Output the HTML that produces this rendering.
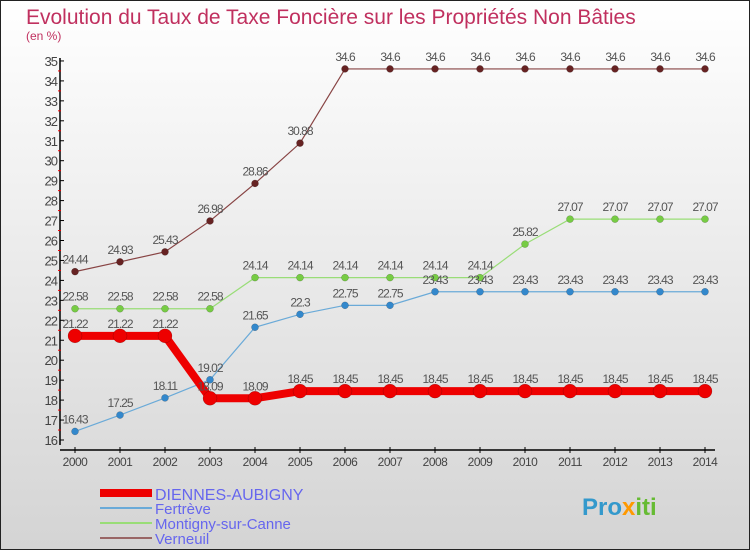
<!DOCTYPE html>
<html><head><meta charset="utf-8"><style>
body{margin:0}
svg{display:block;font-family:"Liberation Sans",sans-serif}
</style></head><body>
<svg id="c" width="750" height="550" viewBox="0 0 750 550">
<defs><linearGradient id="bg" x1="0" y1="0" x2="0" y2="1"><stop offset="0" stop-color="#ffffff"/><stop offset="1" stop-color="#d4d4d4"/></linearGradient></defs>
<rect x="0.5" y="0.5" width="749" height="549" fill="url(#bg)" stroke="#222"/>
<text x="26" y="24" font-size="21" fill="#c0305f">Evolution du Taux de Taxe Foncière sur les Propriétés Non Bâties</text>
<text x="26" y="40" font-size="12" fill="#c0305f">(en %)</text>
<g id="axes"></g><g id="series"></g>
<g>
<line x1="100" y1="493" x2="152" y2="493" stroke="#ee0000" stroke-width="8"/>
<text x="155" y="500" font-size="16" fill="#6666ee">DIENNES-AUBIGNY</text>
<line x1="100" y1="508" x2="152" y2="508" stroke="#6aaad8" stroke-width="2"/>
<text x="155" y="514" font-size="15" fill="#6666ee">Fertrève</text>
<line x1="100" y1="523" x2="152" y2="523" stroke="#99dd77" stroke-width="2"/>
<text x="155" y="529" font-size="15" fill="#6666ee">Montigny-sur-Canne</text>
<line x1="100" y1="538" x2="152" y2="538" stroke="#996666" stroke-width="2"/>
<text x="155" y="544" font-size="15" fill="#6666ee">Verneuil</text>
</g>
<text x="582" y="515" font-size="24" font-weight="bold" fill="#3399cc">Pro<tspan fill="#ff9900">x</tspan><tspan fill="#66bb33">iti</tspan></text>
</svg>
<script>
const years=[2000,2001,2002,2003,2004,2005,2006,2007,2008,2009,2010,2011,2012,2013,2014];
const yTicks=[16,17,18,19,20,21,22,23,24,25,26,27,28,29,30,31,32,33,34,35];
const verneuil=[24.44,24.93,25.43,26.98,28.86,30.88,34.6,34.6,34.6,34.6,34.6,34.6,34.6,34.6,34.6];
const montigny=[22.58,22.58,22.58,22.58,24.14,24.14,24.14,24.14,24.14,24.14,25.82,27.07,27.07,27.07,27.07];
const fertreve=[16.43,17.25,18.11,19.02,21.65,22.3,22.75,22.75,23.43,23.43,23.43,23.43,23.43,23.43,23.43];
const dienne=[21.22,21.22,21.22,18.09,18.09,18.45,18.45,18.45,18.45,18.45,18.45,18.45,18.45,18.45,18.45];
const NS="http://www.w3.org/2000/svg";
const X=i=>75+i*45, Y=v=>440-(v-16)*19.95;
function mk(t,a,p){const e=document.createElementNS(NS,t);for(const k in a)e.setAttribute(k,a[k]);p.appendChild(e);return e;}
const ax=document.getElementById('axes');
const yl=mk('line',{x1:60,y1:58,x2:60,y2:445,stroke:'#000','stroke-width':1.5},ax);


const xl=mk('line',{x1:60,y1:450,x2:715,y2:450,stroke:'#000','stroke-width':1.5},ax);


yTicks.forEach(v=>{
  mk('line',{x1:60,y1:Y(v),x2:64,y2:Y(v),stroke:'#000'},ax);
  if(v<35)mk('line',{x1:58,y1:Y(v+0.5),x2:61,y2:Y(v+0.5),stroke:'#e00'},ax);
  const t=mk('text',{x:57,y:Y(v)+5,'font-size':13,'text-anchor':'end',fill:'#444','letter-spacing':'-1'},ax);
  t.textContent=v;
  
  
});
years.forEach((yr,i)=>{
  mk('line',{x1:X(i),y1:447,x2:X(i),y2:453,stroke:'#000'},ax);
  const t=mk('text',{x:X(i),y:466,'font-size':12,'text-anchor':'middle',fill:'#444','letter-spacing':'-0.5'},ax);
  t.textContent=yr;
  
  
});
const sg=document.getElementById('series');
function series(vals,name,color,dot,w,r){
  const g=mk('g',{},sg);
  
  
  mk('polyline',{points:vals.map((v,i)=>X(i)+','+Y(v)).join(' '),fill:'none',stroke:color,'stroke-width':w},g);
  vals.forEach((v,i)=>{
    const c=mk('circle',{cx:X(i),cy:Y(v),r:r,fill:dot,stroke:'rgba(0,0,0,0.3)','stroke-width':0.5},g);
    
    
    const t=mk('text',{x:X(i),y:Y(v)-8,'font-size':12,'text-anchor':'middle',fill:'#555','letter-spacing':'-1'},g);
    t.textContent=String(v).replace(/\.?0+$/,'');
    
    
  });
}
series(verneuil,'verneuil','#884444','#662222',1.2,3.5);
series(montigny,'montigny','#99dd77','#77cc44',1.2,3.5);
series(fertreve,'fertreve','#6aaad8','#3388cc',1.2,3.5);
series(dienne,'dienne','#ee0000','#ee0000',8,7);
</script>
</body></html>
